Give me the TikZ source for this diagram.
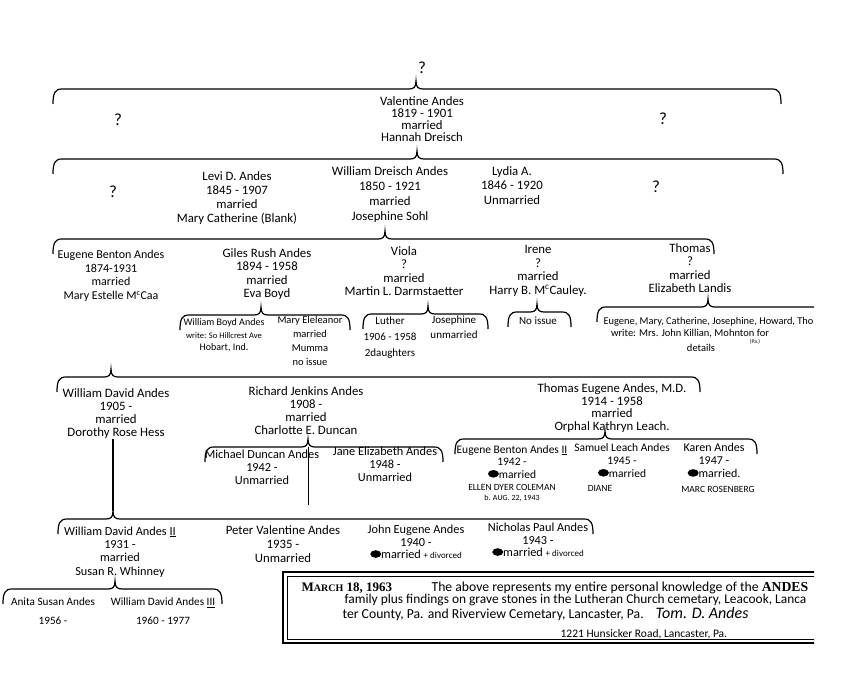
\documentclass[tikz,border=0pt]{standalone}
\usepackage{fontspec}
\setmainfont{Carlito}
\newfontfamily\typeset{Liberation Serif}
\usetikzlibrary{calc}

% bracket over one family: left x, right x, line y, parent node, shift of the tip
\newcommand{\kinbrace}[5]{%
  \path (#4.south) ++(#5,0) coordinate (kbp);
  \path (kbp |- 0,#3) coordinate (kbt);
  \draw (#1,#3+15) .. controls (#1,#3+4) and (#1+2,#3) .. (#1+9,#3)
    -- ($(kbt)+(-7,0)$) .. controls ($(kbt)+(-2,0)$) and ($(kbt)+(0,-2)$) .. ($(kbt)+(0,-8)$)
    .. controls ($(kbt)+(0,-2)$) and ($(kbt)+(2,0)$) .. ($(kbt)+(7,0)$)
    -- (#2-9,#3) .. controls (#2-2,#3) and (#2,#3+4) .. (#2,#3+15);
}
% scribbled out letters in front of "married"
\newcommand{\blot}{\tikz[x=1pt, y=1pt, baseline=-0.8ex]\fill (0,0) ellipse (5.5pt and 3.8pt);}
% hand size with a given line distance
\newcommand{\hand}[1]{\fontsize{12.8}{#1}\selectfont}

\begin{document}
\begin{tikzpicture}[x=1pt, y=-1pt, line width=1.2pt,
  font=\hand{13.5},
  person/.style={align=center, inner sep=0pt, anchor=north},
  smallp/.style={person, font=\fontsize{10.5}{12.5}\selectfont},
  tinyp/.style={person, font=\fontsize{9.5}{9.5}\selectfont},
  qmark/.style={inner sep=0pt, font=\fontsize{17}{17}\selectfont}]
\useasboundingbox (0,0) rectangle (856,700);
\begin{scope}
\clip (0,0) rectangle (814,700);

% Valentine and his parents
\node[qmark] (qtop) at (422,68) {?};
\kinbrace{53}{781}{89}{qtop}{-6}
\node[qmark] (qa) at (118,120) {?};
\node[person, font=\hand{12}] (valentine) at (422,96) {Valentine Andes\\1819 - 1901\\married\\Hannah Dreisch};
\node[qmark] (qb) at (663,119) {?};

% his children
\kinbrace{53}{783}{159}{valentine}{-5}
\node[qmark] (qc) at (113,192) {?};
\node[person, font=\hand{14}] (levi) at (237,171) {Levi D. Andes\\1845 - 1907\\married\\Mary Catherine (Blank)};
\node[person, font=\hand{15}] (william) at (390,166) {William Dreisch Andes\\1850 - 1921\\married\\Josephine Sohl};
\node[person, font=\hand{14.5}] (lydia) at (512,166) {Lydia A.\\1846 - 1920\\Unmarried};
\node[qmark] (qd) at (656,187) {?};

% grandchildren
\kinbrace{53}{714}{239}{william}{-5}
\node[person, font=\fontsize{12}{13.5}\selectfont] (eugene) at (111,250) {Eugene Benton Andes\\1874-1931\\married\\Mary Estelle M\textsuperscript{c}Caa};
\node[person] (giles) at (267,248) {Giles Rush Andes\\1894 - 1958\\married\\Eva Boyd};
\node[person] (viola) at (404,246) {Viola\\?\\married\\Martin L. Darmstaetter};
\node[person] (irene) at (538,245) {Irene\\?\\married\\Harry B. M\textsuperscript{c}Cauley.};
\node[person] (thomas) at (690,243) {Thomas\\?\\married\\Elizabeth Landis};

% their children
\kinbrace{180}{350}{315}{giles}{-6}
\node[smallp, font=\fontsize{10}{12.5}\selectfont] (willboyd) at (224,318) {William Boyd Andes\\{\fontsize{8.5}{10}\selectfont write: So Hillcrest Ave}\\{\fontsize{10}{11}\selectfont Hobart, Ind.}};
\node[smallp, font=\fontsize{10.5}{14}\selectfont] (maryel) at (310,316) {Mary Eleleanor\\married\\Mumma\\no issue};
\kinbrace{363}{488}{314}{viola}{24}
\node[smallp, font=\fontsize{11}{16}\selectfont] (luther) at (390,316) {Luther\\1906 - 1958\\2daughters};
\node[smallp, font=\fontsize{11}{15}\selectfont] (josephb) at (454,315) {Josephine\\unmarried};
\kinbrace{508}{571}{312}{irene}{-1}
\node[smallp, font=\fontsize{11}{12.5}\selectfont] (noissue) at (538,316) {No issue};
\kinbrace{597}{840}{307}{thomas}{18}
\node[inner sep=0pt, anchor=west, font=\fontsize{10.4}{12}\selectfont] (kidsa) at (603,322) {Eugene, Mary, Catherine, Josephine, Howard, Tho};
\node[inner sep=0pt, font=\fontsize{10.5}{12}\selectfont] (kidsb) at (690,334) {write: Mrs. John Killian, Mohnton for};
\node[inner sep=0pt, font=\fontsize{5.5}{6}\selectfont] (kidspa) at (755,342) {(Pa.)};
\node[inner sep=0pt, font=\fontsize{10.5}{12}\selectfont] (kidsc) at (701,348) {details};

% children of Eugene Benton Andes
\kinbrace{57}{700}{377}{eugene}{0}
\node[person, font=\hand{13}] (wmdavid) at (116,388) {William David Andes\\1905 -\\married\\Dorothy Rose Hess};
\node[person, font=\hand{13}] (richard) at (306,386) {Richard Jenkins Andes\\1908 -\\married\\Charlotte E. Duncan};
\node[person, font=\hand{12.7}] (thomaseu) at (612,383) {Thomas Eugene Andes, M.D.\\1914 - 1958\\married\\Orphal Kathryn Leach.};

% children of Richard
\kinbrace{205}{443}{447}{richard}{2}
\path (kbt) coordinate (rjtip);
\draw[line width=0.5pt] (rjtip) -- ++(0,58);
\node[person, font=\fontsize{12.3}{13}\selectfont] (michael) at (262,449) {Michael Duncan Andes\\1942 -\\Unmarried};
\node[person, font=\fontsize{12.3}{13}\selectfont] (jane) at (385,446) {Jane Elizabeth Andes\\1948 -\\Unmarried};

% children of Thomas Eugene
\kinbrace{455}{757}{439}{thomaseu}{-7}
\node[person, font=\fontsize{11.5}{12.5}\selectfont] (eugene2) at (512,445) {Eugene Benton Andes \underline{II}\\1942 -\\\blot married};
\node[tinyp] (ellen) at (512,484) {ELLEN DYER COLEMAN\\{\fontsize{8}{8}\selectfont b. AUG. 22, 1943}};
\node[person, font=\fontsize{11.5}{13}\selectfont] (samuel) at (622,443) {Samuel Leach Andes\\1945 -\\\blot married};
\node[tinyp] (diane) at (600,485) {DIANE};
\node[person, font=\fontsize{12}{13}\selectfont] (karen) at (714,443) {Karen Andes\\1947 -\\\blot married.};
\node[tinyp] (marc) at (718,486) {MARC ROSENBERG};

% children of William David Andes
\kinbrace{58}{593}{519}{wmdavid}{-3}
\draw ($(kbt)+(0,-8)$) -- (kbt |- wmdavid.south);
\node[person, font=\fontsize{12.3}{13.3}\selectfont] (wm2) at (120,526) {William David Andes \underline{II}\\1931 -\\married\\Susan R. Whinney};
\node[person, font=\hand{14}] (peter) at (283,525) {Peter Valentine Andes\\1935 -\\Unmarried};
\node[person, font=\fontsize{12.3}{12.5}\selectfont] (john) at (416,525) {John Eugene Andes\\1940 -\\\blot married {\fontsize{9}{9}\selectfont + divorced}};
\node[person, font=\fontsize{12.3}{12.5}\selectfont] (nicholas) at (538,523) {Nicholas Paul Andes\\1943 -\\\blot married {\fontsize{9}{9}\selectfont + divorced}};

% children of William David Andes II
\kinbrace{3}{222}{589}{wm2}{-5}
\node[person, font=\fontsize{11.2}{19}\selectfont] (anita) at (53,597) {Anita Susan Andes\\1956 -};
\node[person, font=\fontsize{11.2}{19}\selectfont] (wm3) at (163,597) {William David Andes \underline{III}\\1960 - 1977};

% note at the foot
\draw[line width=2pt] (840,572) -- (283,572) -- (283,643) -- (840,643);
\draw[line width=0.6pt] (840,576) -- (287,576) -- (287,639) -- (840,639);
\node[inner sep=0pt, anchor=north west, align=left, font=\fontsize{13.7}{12.8}\selectfont] (note) at (301,581)
  {\makebox[130pt][l]{\typeset\bfseries\fontsize{13}{13}\selectfont M{\fontsize{10}{10}\selectfont ARCH} 18, 1963}The above represents my entire personal knowledge of the {\typeset\bfseries ANDES}\\
   \hspace*{43pt}{\fontsize{13.4}{12.8}\selectfont family plus findings on grave stones in the Lutheran Church cemetary, Leacook, Lanca}\\
   \hspace*{41pt}ter County, Pa. and Riverview Cemetary, Lancaster, Pa.\hspace{12pt}{\itshape\fontsize{16}{12}\selectfont Tom. D. Andes}\\[6pt]
   \hspace*{259pt}{\fontsize{11.5}{12}\selectfont 1221 Hunsicker Road, Lancaster, Pa.}};
\end{scope}
\end{tikzpicture}
\end{document}
